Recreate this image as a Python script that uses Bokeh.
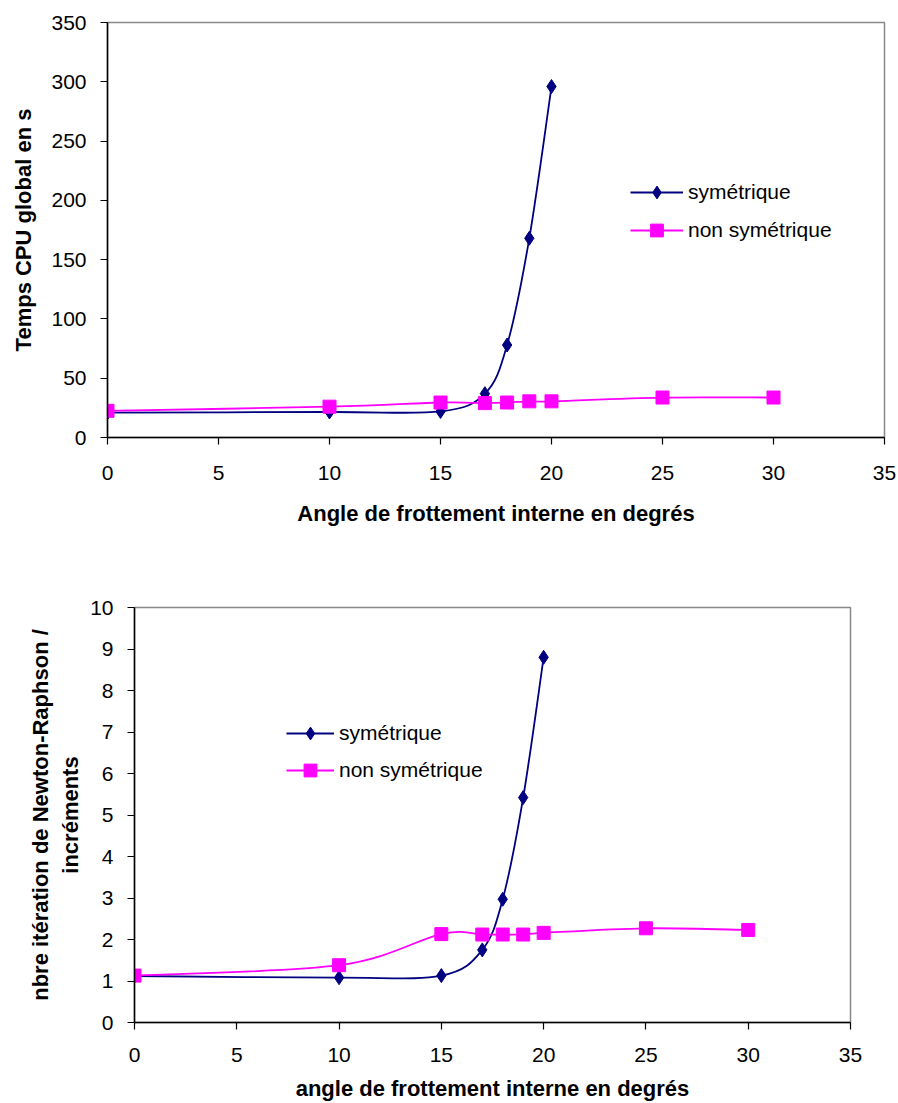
import numpy as np
from bokeh.plotting import figure
from bokeh.models import Legend, LegendItem, FixedTicker, Range1d
from bokeh.embed import file_html
from bokeh.resources import INLINE

# ---------------- data ----------------
angles_sym = [0, 10, 15, 17, 18, 19, 20]
angles_nonsym = [0, 10, 15, 17, 18, 19, 20, 25, 30]

cpu_sym = [21, 21.5, 22, 37, 78, 168, 296]
cpu_nonsym = [22.5, 26, 29.5, 29, 29.5, 30.5, 30.5, 33.7, 33.7]

nr_sym = [1.12, 1.08, 1.13, 1.75, 2.97, 5.42, 8.8]
nr_nonsym = [1.13, 1.38, 2.13, 2.12, 2.12, 2.12, 2.16, 2.27, 2.23]

x_ticks = [0, 5, 10, 15, 20, 25, 30, 35]
cpu_ticks = [0, 50, 100, 150, 200, 250, 300, 350]
nr_ticks = [0, 1, 2, 3, 4, 5, 6, 7, 8, 9, 10]

series_names = ["symétrique", "non symétrique"]
BLUE = "#000080"
PINK = "#FF00FF"
FONT = "Liberation Sans"


def smooth_segments(xs, ys):
    """Bezier control points (Excel-like smoothed line) from the data."""
    x = np.asarray(xs, float)
    y = np.asarray(ys, float)
    xp = np.concatenate([[x[0]], x, [x[-1]]])
    yp = np.concatenate([[y[0]], y, [y[-1]]])
    n = len(x)
    d = dict(x0=[], y0=[], x1=[], y1=[], cx0=[], cy0=[], cx1=[], cy1=[])
    for i in range(n - 1):
        p0x, p0y = xp[i], yp[i]
        p1x, p1y = xp[i + 1], yp[i + 1]
        p2x, p2y = xp[i + 2], yp[i + 2]
        p3x, p3y = xp[i + 3], yp[i + 3]
        d["x0"].append(p1x); d["y0"].append(p1y)
        d["x1"].append(p2x); d["y1"].append(p2y)
        d["cx0"].append(p1x + (p2x - p0x) / 6.0)
        d["cy0"].append(p1y + (p2y - p0y) / 6.0)
        d["cx1"].append(p2x - (p3x - p1x) / 6.0)
        d["cy1"].append(p2y - (p3y - p1y) / 6.0)
    return d


def make_plot(width, height, borders, y_max, y_ticks, x_title, y_title,
              sym_vals, nonsym_vals, legend_xy, glyph_w,
              x_lab_off, x_title_off, y_lab_off, y_title_off, legend_gap):
    left, right, top, bottom = borders
    p = figure(width=width, height=height, output_backend="svg",
               toolbar_location=None,
               x_range=Range1d(0, 35), y_range=Range1d(0, y_max),
               min_border_left=left, min_border_right=right,
               min_border_top=top, min_border_bottom=bottom)
    p.background_fill_color = "white"
    p.border_fill_color = "white"
    p.outline_line_color = "#888888"
    p.outline_line_width = 1.5
    p.xgrid.visible = False
    p.ygrid.visible = False

    for ax, ticks in ((p.xaxis[0], x_ticks), (p.yaxis[0], y_ticks)):
        ax.ticker = FixedTicker(ticks=ticks)
        ax.minor_tick_line_color = None
        ax.major_tick_in = 0
        ax.major_tick_out = 7
        ax.axis_line_color = "black"
        ax.axis_line_width = 1.5
        ax.major_tick_line_color = "black"
        ax.major_tick_line_width = 1.2
        ax.major_label_text_font = FONT
        ax.major_label_text_font_size = "21px"
        ax.major_label_text_color = "black"
        ax.axis_label_text_font = FONT
        ax.axis_label_text_font_size = "22px"
        ax.axis_label_text_font_style = "bold"
        ax.axis_label_text_color = "black"

    p.xaxis.axis_label = x_title
    p.yaxis.axis_label = y_title
    p.xaxis.major_label_standoff = x_lab_off
    p.xaxis.axis_label_standoff = x_title_off
    p.yaxis.major_label_standoff = y_lab_off
    p.yaxis.axis_label_standoff = y_title_off

    # symmetric series
    b1 = p.bezier(source=smooth_segments(angles_sym, sym_vals),
                  x0="x0", y0="y0", x1="x1", y1="y1",
                  cx0="cx0", cy0="cy0", cx1="cx1", cy1="cy1",
                  line_color=BLUE, line_width=1.8)
    m1 = p.scatter(angles_sym, sym_vals, marker="diamond",
                   size=14, fill_color=BLUE, line_color=BLUE)
    # non symmetric series
    b2 = p.bezier(source=smooth_segments(angles_nonsym, nonsym_vals),
                  x0="x0", y0="y0", x1="x1", y1="y1",
                  cx0="cx0", cy0="cy0", cx1="cx1", cy1="cy1",
                  line_color=PINK, line_width=1.8)
    m2 = p.scatter(angles_nonsym, nonsym_vals, marker="square",
                   size=13, fill_color=PINK, line_color=PINK)

    legend = Legend(items=[LegendItem(label=series_names[0], renderers=[b1, m1]),
                           LegendItem(label=series_names[1], renderers=[b2, m2])],
                    location=legend_xy, orientation="vertical",
                    border_line_color=None, background_fill_alpha=0,
                    padding=0, margin=0, spacing=legend_gap,
                    glyph_width=glyph_w, glyph_height=32,
                    label_height=32, label_standoff=5,
                    label_text_font=FONT, label_text_font_size="21px",
                    label_text_color="black")
    p.add_layout(legend, "center")
    return p


p1 = make_plot(896, 545, (107, 12, 22, 108), 350, cpu_ticks,
               "Angle de frottement interne en degrés", "Temps CPU global en s",
               cpu_sym, cpu_nonsym, (523, 191), 53,
               21, 18, 14, 12, 6)
p2 = make_plot(896, 558, (134, 46, 62, 81), 10, nr_ticks,
               "angle de frottement interne en degrés",
               "nbre itération de Newton-Raphson /\nincréments",
               nr_sym, nr_nonsym, (152, 236), 48,
               18, 11, 14, 4, 5)

open("out.html", "w").write(file_html([p1, p2], INLINE))
